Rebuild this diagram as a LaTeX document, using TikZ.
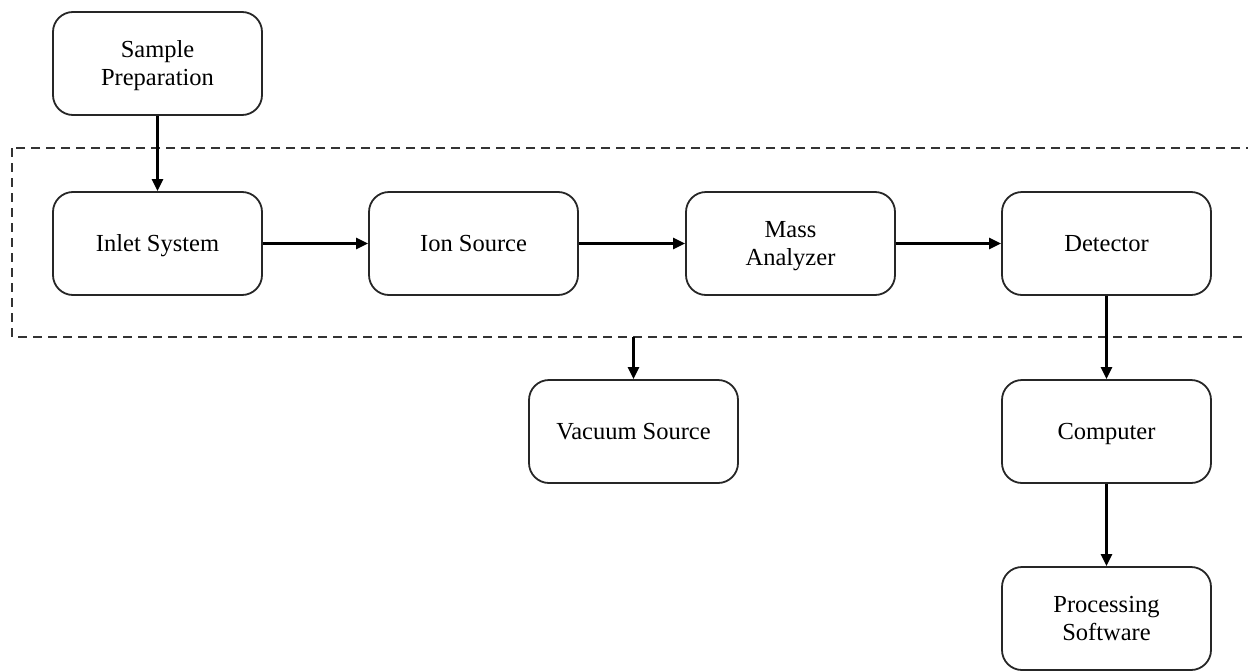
\documentclass[tikz,border=0pt]{standalone}
\usepackage{fontspec}
\setmainfont{Liberation Serif}
\usetikzlibrary{arrows.meta}
\begin{document}
\begin{tikzpicture}[x=1pt,y=-1pt,
  box/.style={draw=black!85,line width=1.8pt,rounded corners=20pt,minimum width=209pt,minimum height=103pt,align=center,inner sep=0pt,font=\fontsize{24.5}{28.3}\selectfont,text height=16pt,text depth=0pt},
  twoline/.style={text height=44.3pt,text depth=0pt},
  conn/.style={line width=2.6pt,-{Triangle[length=12pt,width=11pt]}},
  frame/.style={draw=black!80,line width=1.6pt,dash pattern=on 9pt off 6pt}]
\useasboundingbox (0,0) rectangle (1248,672);
\begin{scope}
\clip (0,0) rectangle (1248,672);
\draw[frame] (12,148) rectangle (1262,337);
\end{scope}
\node[box,twoline] (sample) at (157.5,63.5) {Sample\\Preparation};
\node[box] (inlet) at (157.5,243.5) {Inlet System};
\node[box] (ion) at (473.5,243.5) {Ion Source};
\node[box,twoline] (mass) at (790.5,243.5) {Mass\\Analyzer};
\node[box] (det) at (1106.5,243.5) {Detector};
\node[box] (vac) at (633.5,431.5) {Vacuum Source};
\node[box] (comp) at (1106.5,431.5) {Computer};
\node[box,twoline] (proc) at (1106.5,618.5) {Processing\\Software};
\coordinate (vtop) at (633.5,337);
\draw[conn] (sample) -- (inlet);
\draw[conn] (inlet) -- (ion);
\draw[conn] (ion) -- (mass);
\draw[conn] (mass) -- (det);
\draw[conn] (det) -- (comp);
\draw[conn] (comp) -- (proc);
\draw[conn] (vtop) -- (vac);
\end{tikzpicture}
\end{document}
